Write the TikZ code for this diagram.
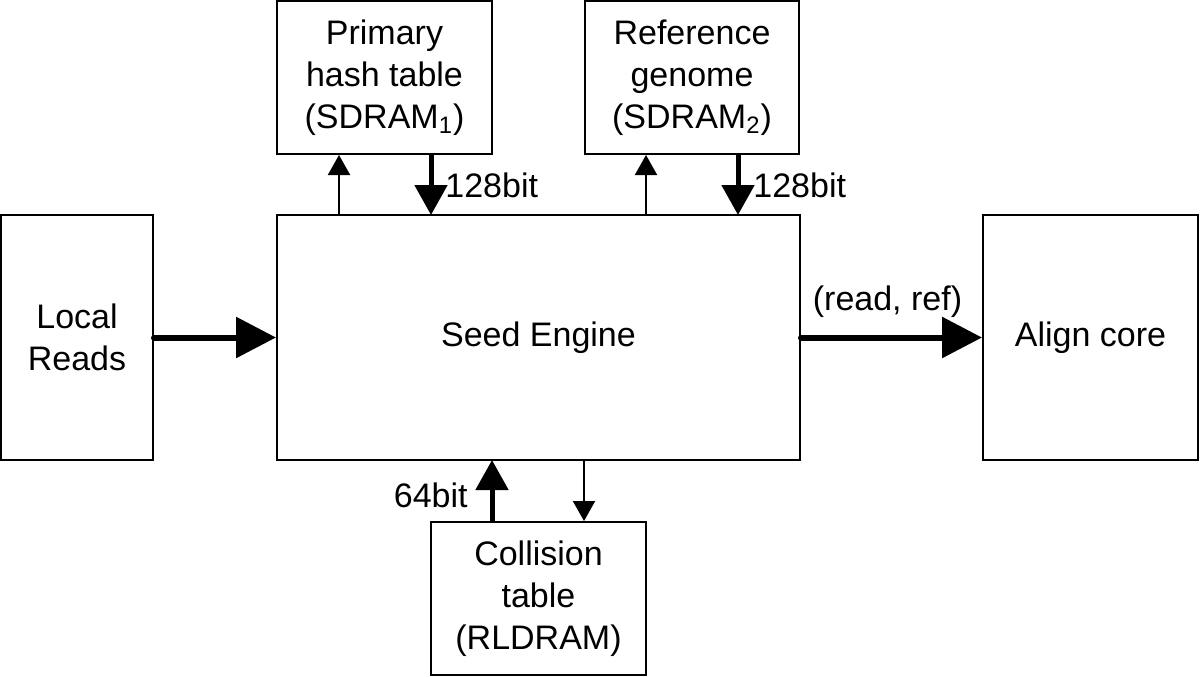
\documentclass[tikz,border=0pt]{standalone}
\usepackage{fontspec}
\setmainfont{Liberation Sans}
\usetikzlibrary{arrows.meta}
\begin{document}
\begin{tikzpicture}[x=0.5pt,y=-0.5pt,
  box/.style={draw, line width=1pt, inner sep=0pt, align=center, font=\fontsize{17}{21}\selectfont},
  thinarr/.style={line width=1pt, -{Triangle[length=10pt,width=11pt]}},
  thickv/.style={line width=2.5pt, -{Triangle[length=15pt,width=16pt]}},
  thickh/.style={line width=3pt, line cap=round, -{Triangle[length=20pt,width=20pt]}},
  lbl/.style={font=\fontsize{17}{21}\selectfont, inner sep=0pt}]
\useasboundingbox (0,0) rectangle (1200,676);
\node[box, minimum width=76pt, minimum height=122.5pt] (reads) at (77,337.5) {Local\\Reads};
\node[box, minimum width=261.5pt, minimum height=122.5pt] (seed) at (538.5,337.5) {Seed Engine};
\node[box, minimum width=107.5pt, minimum height=122.5pt] (align) at (1090.5,337.5) {Align core};
\node[box, minimum width=107.5pt, minimum height=76.5pt] (prim) at (384.5,77.5) {Primary\\hash table\\(SDRAM\textsubscript{1})};
\node[box, minimum width=107pt, minimum height=76.5pt] (ref) at (692,77.5) {Reference\\genome\\(SDRAM\textsubscript{2})};
\node[box, minimum width=107.5pt, minimum height=76.5pt] (coll) at (538.5,598.5) {Collision\\table\\(RLDRAM)};
\coordinate (p1) at (339,215);
\coordinate (p2) at (431,215);
\coordinate (r1) at (646,215);
\coordinate (r2) at (738,215);
\coordinate (c1) at (492,460);
\coordinate (c2) at (584,460);
\draw[thinarr] (p1) -- (p1 |- prim.south);
\draw[thickv] (p2 |- prim.south) -- (p2);
\draw[thinarr] (r1) -- (r1 |- ref.south);
\draw[thickv] (r2 |- ref.south) -- (r2);
\draw[thickv] (c1 |- coll.north) -- (c1);
\draw[thinarr] (c2) -- (c2 |- coll.north);
\draw[thickh] (reads.east) -- (seed.west);
\draw[thickh] (seed.east) -- (align.west);
\node[lbl, anchor=west] (l1) at (445,185) {128bit};
\node[lbl, anchor=west] (l2) at (753,185) {128bit};
\node[lbl, anchor=east] (l3) at (468,495) {64bit};
\node[lbl] (l4) at (887.5,302) {(read, ref)};
\end{tikzpicture}
\end{document}
